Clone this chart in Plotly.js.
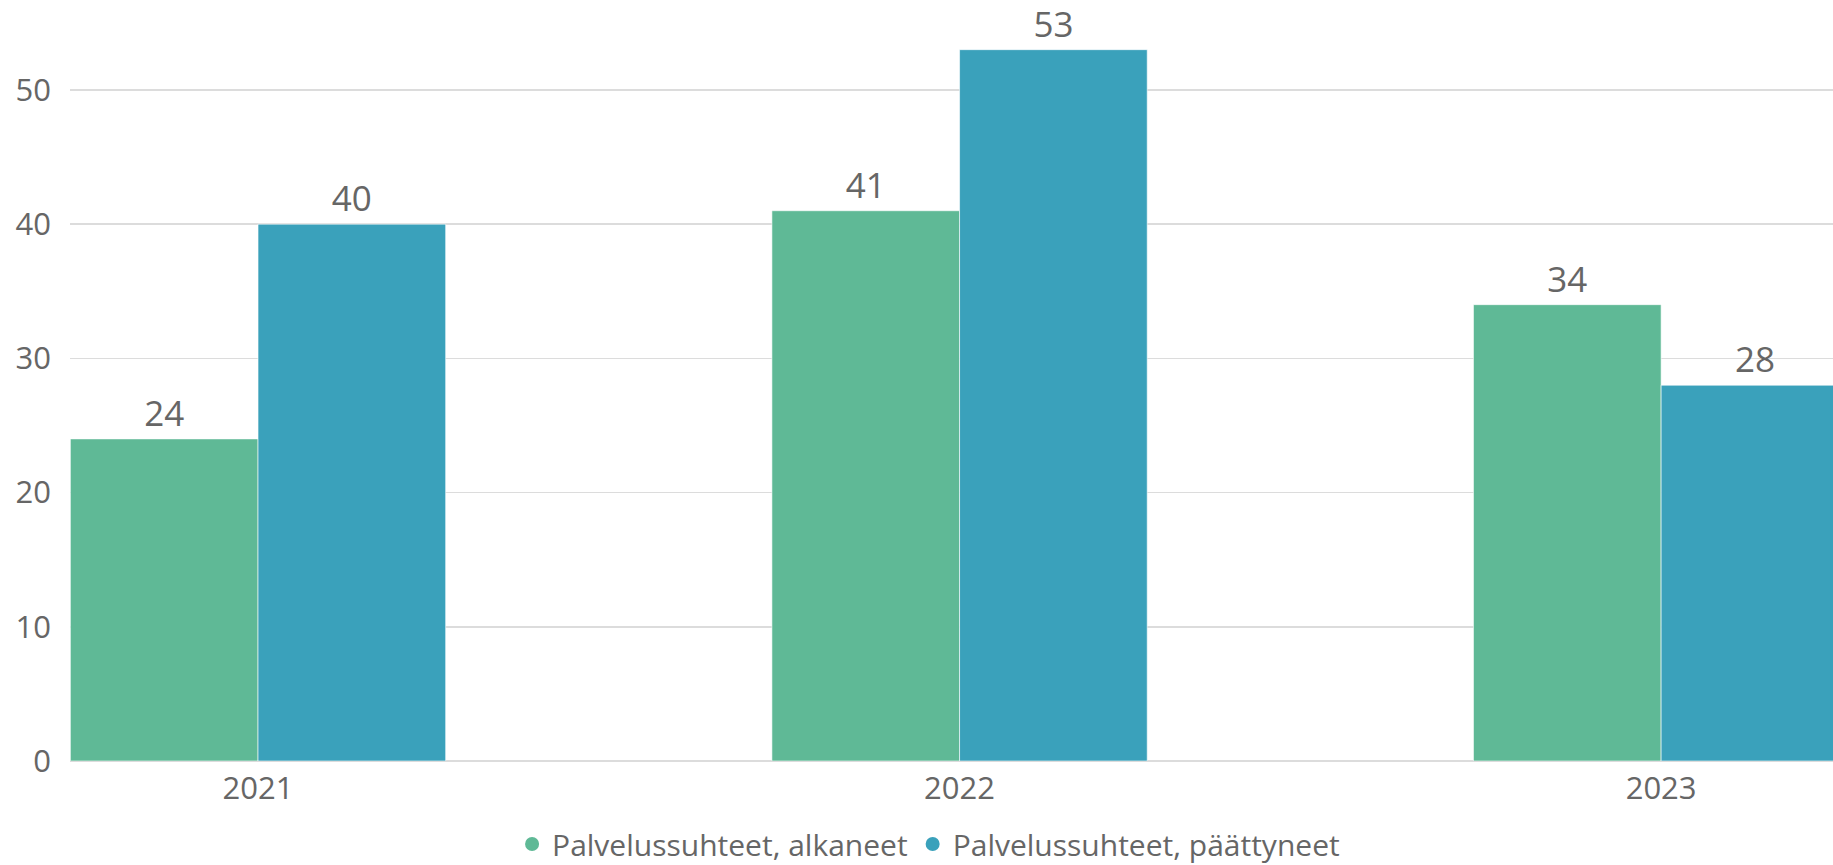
<!DOCTYPE html>
<html>
<head>
<meta charset="utf-8">
<script src="https://cdn.plot.ly/plotly-3.0.1.min.js"></script>
<style>html,body{margin:0;padding:0;background:#fff;}#chart{width:1833px;height:865px;}</style>
</head>
<body>
<div id="chart"></div>
<script>
const years = ["2021", "2022", "2023"];
const alkaneet = [24, 41, 34];
const paattyneet = [40, 53, 28];
const seriesNames = ["Palvelussuhteet, alkaneet", "Palvelussuhteet, päättyneet"];
const seriesColors = ["#5FB996", "#3AA1BB"];
const yTicks = [0, 10, 20, 30, 40, 50];

const FONT = '"Open Sans", "Noto Sans", sans-serif';
const TXT = '#666666';

function barTrace(vals, i) {
  return {
    type: 'bar', x: years, y: vals, name: seriesNames[i],
    marker: {color: seriesColors[i], line: {color: 'rgba(255,255,255,0.6)', width: 1}},
    text: vals.map(String), textposition: 'outside', cliponaxis: false,
    textfont: {family: FONT, size: 35, color: TXT},
    showlegend: false, hoverinfo: 'x+y'
  };
}
function legendTrace(i) {
  return {
    type: 'scatter', mode: 'markers', x: [null], y: [null], name: seriesNames[i],
    marker: {color: seriesColors[i], symbol: 'circle', size: 14}, showlegend: true
  };
}

const data = [barTrace(alkaneet, 0), barTrace(paattyneet, 1), legendTrace(0), legendTrace(1)];

const layout = {
  width: 1833, height: 865,
  margin: {l: 70, r: 0, t: 0, b: 104, autoexpand: false},
  paper_bgcolor: '#ffffff', plot_bgcolor: '#ffffff',
  barmode: 'group', bargap: 0.465, bargroupgap: 0,
  font: {family: FONT, color: TXT},
  xaxis: {
    type: 'category', range: [-0.268, 2.245],
    showgrid: false, zeroline: false, showline: false, automargin: false,
    tickfont: {family: FONT, size: 31, color: TXT}, ticks: '', ticklabelstandoff: 6
  },
  yaxis: {
    range: [0, 56.7], tickvals: yTicks, ticktext: yTicks.map(String), automargin: false,
    showgrid: true, gridcolor: '#DCDCDC', gridwidth: 1.5,
    zeroline: true, zerolinecolor: '#DCDCDC', zerolinewidth: 1.5,
    tickfont: {family: FONT, size: 31, color: TXT}, ticks: '', ticklabelstandoff: 18
  },
  legend: {
    orientation: 'h', x: 0.487, xanchor: 'center', y: -0.109, yanchor: 'middle',
    font: {family: FONT, size: 30, color: TXT}, itemwidth: 30, tracegroupgap: 0
  },
  showlegend: true
};

Plotly.newPlot('chart', data, layout, {displayModeBar: false, staticPlot: true});
</script>
</body>
</html>
